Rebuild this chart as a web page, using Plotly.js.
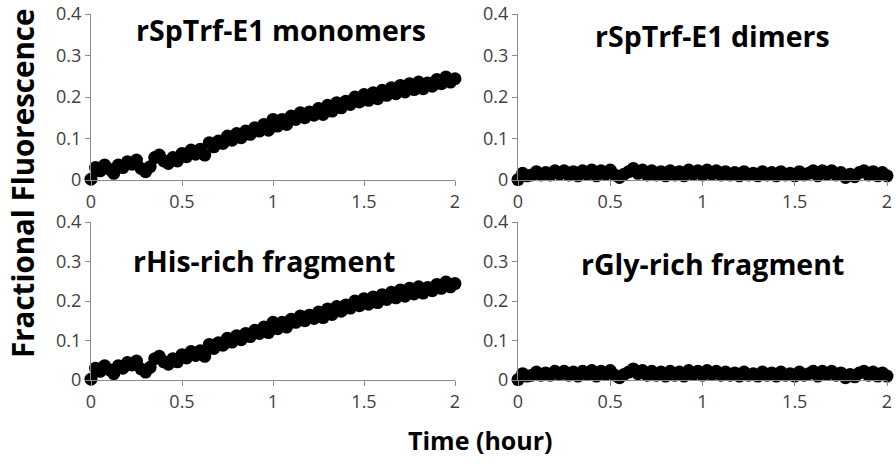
<!DOCTYPE html>
<html><head><meta charset="utf-8">
<script src="https://cdn.plot.ly/plotly-3.0.1.min.js"></script>
<style>html,body{margin:0;padding:0;background:#fff}#chart{width:896px;height:464px}</style>
</head><body><div id="chart"></div>
<script>
const panelTitles = ["rSpTrf-E1 monomers", "rSpTrf-E1 dimers", "rHis-rich fragment", "rGly-rich fragment"];
const timeHours = [0,0.025,0.05,0.075,0.1,0.125,0.15,0.175,0.2,0.225,0.25,0.275,0.3,0.325,0.35,0.375,0.4,0.425,0.45,0.475,0.5,0.525,0.55,0.575,0.6,0.625,0.65,0.675,0.7,0.725,0.75,0.775,0.8,0.825,0.85,0.875,0.9,0.925,0.95,0.975,1.0,1.025,1.05,1.075,1.1,1.125,1.15,1.175,1.2,1.225,1.25,1.275,1.3,1.325,1.35,1.375,1.4,1.425,1.45,1.475,1.5,1.525,1.55,1.575,1.6,1.625,1.65,1.675,1.7,1.725,1.75,1.775,1.8,1.825,1.85,1.875,1.9,1.925,1.95,1.975,2.0];
const monomers = [0.002,0.030,0.022,0.036,0.026,0.016,0.036,0.030,0.044,0.038,0.048,0.028,0.020,0.032,0.054,0.060,0.046,0.040,0.054,0.046,0.064,0.056,0.072,0.062,0.074,0.060,0.090,0.080,0.094,0.088,0.106,0.096,0.112,0.102,0.118,0.110,0.126,0.118,0.134,0.120,0.146,0.130,0.146,0.134,0.154,0.146,0.162,0.150,0.164,0.156,0.172,0.158,0.180,0.166,0.186,0.174,0.190,0.182,0.200,0.188,0.206,0.192,0.210,0.196,0.216,0.204,0.222,0.208,0.228,0.212,0.232,0.218,0.236,0.220,0.234,0.226,0.242,0.232,0.248,0.236,0.244];
const dimers = [0.001,0.016,0.010,0.012,0.020,0.012,0.018,0.012,0.022,0.014,0.022,0.012,0.020,0.010,0.022,0.014,0.024,0.010,0.022,0.014,0.024,0.012,0.006,0.014,0.020,0.028,0.016,0.024,0.012,0.022,0.012,0.020,0.010,0.022,0.012,0.020,0.010,0.024,0.014,0.022,0.012,0.024,0.014,0.022,0.012,0.020,0.012,0.018,0.010,0.020,0.012,0.016,0.010,0.020,0.012,0.018,0.010,0.020,0.012,0.016,0.010,0.020,0.012,0.016,0.022,0.010,0.022,0.014,0.022,0.012,0.018,0.006,0.014,0.008,0.018,0.022,0.012,0.020,0.010,0.018,0.010];
const hisRich = monomers.slice();
const glyRich = dimers.slice();
const yTicks = [0, 0.1, 0.2, 0.3, 0.4];
const yTickText = ["0", "0.1", "0.2", "0.3", "0.4"];
const xTicks = [0, 0.5, 1, 1.5, 2];
const xTickText = ["0", "0.5", "1", "1.5", "2"];

const series = [monomers, dimers, hisRich, glyRich];
const traces = series.map((ys, i) => ({
  x: timeHours, y: ys, type: 'scatter', mode: 'markers',
  xaxis: 'x' + (i === 0 ? '' : i + 1), yaxis: 'y' + (i === 0 ? '' : i + 1),
  marker: {color: '#000', size: 13}, cliponaxis: false, showlegend: false, hoverinfo: 'skip'
}));

const W = 896, H = 464;
const px = v => v / W, py = v => 1 - v / H;
const xDomL = [px(91), px(455)], xDomR = [px(518), px(887)];
const yDomT = [py(180), py(14)], yDomB = [py(380), py(222)];
const tickFont = {family: 'Open Sans, sans-serif', size: 18, color: '#404040'};
function xa(dom, anchor) {
  return {domain: dom, anchor: anchor, range: [0, 2], tickvals: xTicks, ticktext: xTickText,
    showgrid: false, zeroline: false, showline: true, linecolor: '#8c8c8c', linewidth: 1,
    ticks: 'outside', ticklen: 5, tickcolor: '#8c8c8c', tickfont: tickFont, fixedrange: true};
}
function ya(dom, anchor) {
  return {domain: dom, anchor: anchor, range: [0, 0.4], tickvals: yTicks, ticktext: yTickText,
    showgrid: false, zeroline: false, showline: true, linecolor: '#8c8c8c', linewidth: 1,
    ticks: 'outside', ticklen: 5, tickcolor: '#8c8c8c', tickfont: tickFont, fixedrange: true};
}
function tf(size) { return {family: 'Open Sans, sans-serif', size: size, color: '#000', weight: 'bold'}; }
function ann(text, x, y, size, extra) {
  return Object.assign({text: '<b>' + text + '</b>', xref: 'paper', yref: 'paper', x: px(x), y: py(y),
    xanchor: 'center', yanchor: 'middle', showarrow: false, font: tf(size)}, extra || {});
}
const layout = {
  width: W, height: H, margin: {l: 0, r: 0, t: 0, b: 0},
  paper_bgcolor: '#fff', plot_bgcolor: '#fff', showlegend: false,
  xaxis: xa(xDomL, 'y'), yaxis: ya(yDomT, 'x'),
  xaxis2: xa(xDomR, 'y2'), yaxis2: ya(yDomT, 'x2'),
  xaxis3: xa(xDomL, 'y3'), yaxis3: ya(yDomB, 'x3'),
  xaxis4: xa(xDomR, 'y4'), yaxis4: ya(yDomB, 'x4'),
  annotations: [
    ann(panelTitles[0], 281, 30, 28.5),
    ann(panelTitles[1], 712, 36, 28.5),
    ann(panelTitles[2], 264, 261, 28.5),
    ann(panelTitles[3], 712, 264, 28.5),
    ann('Fractional Fluorescence', 22, 184, 29.5, {textangle: -90}),
    ann('Time (hour)', 481, 440, 25)
  ]
};
Plotly.newPlot('chart', traces, layout, {staticPlot: true, displayModeBar: false});
</script></body></html>
